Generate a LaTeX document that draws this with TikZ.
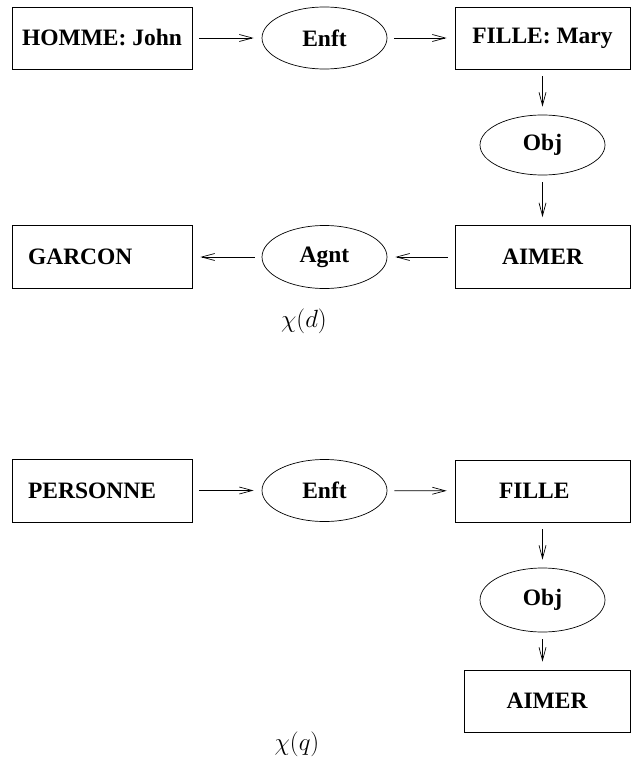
\documentclass[tikz,border=0pt]{standalone}
\usepackage{fontspec}
\setmainfont{Liberation Serif}
\usepackage{tikz}
\usetikzlibrary{arrows.meta,positioning,shapes.geometric}
\tikzset{
  concept/.style={draw,line width=.7pt,minimum height=62pt,inner sep=0pt,font=\fontsize{23.5}{27}\selectfont\bfseries},
  leftconcept/.style={concept,align=left,inner xsep=16pt,text width=148pt},
  relation/.style={draw,ellipse,line width=.7pt,minimum width=125pt,minimum height=62pt,inner sep=0pt,font=\fontsize{23.5}{27}\selectfont\bfseries},
  link/.style={line width=.7pt,-{Straight Barb[length=13pt,width=7pt]},shorten <=7pt,shorten >=8pt},
  caption/.style={font=\fontsize{27}{31}\selectfont}
}
\begin{document}
\begin{tikzpicture}[x=1pt,y=-1pt]
    \useasboundingbox (0,0) rectangle (631,770);
    % graphe chi(d)
    \node[concept,minimum width=180pt] (homme) at (102,38) {HOMME: John};
    \node[relation] (enftd) at (324.5,38) {Enft};
    \node[concept,minimum width=175pt] (mary) at (542.5,38) {FILLE: Mary};
    \node[relation,minimum height=60pt] (objd) at (542.5,145) {Obj};
    \node[concept,minimum width=175pt,minimum height=63pt] (aimerd) at (542.5,257) {AIMER};
    \node[relation,minimum height=63pt] (agnt) at (324.5,257) {Agnt};
    \node[leftconcept,minimum height=63pt] (garcon) at (102,257) {GARCON};
    \node[caption] (chid) at (304,321) {$\chi(d)$};
    \draw[link] (homme) -- (enftd);
    \draw[link] (enftd) -- (mary);
    \draw[link] (mary) -- (objd);
    \draw[link] (objd) -- (aimerd);
    \draw[link] (aimerd) -- (agnt);
    \draw[link] (agnt) -- (garcon);
    % graphe chi(q)
    \node[leftconcept,minimum height=63pt] (personne) at (102,490.5) {PERSONNE};
    \node[relation] (enftq) at (324.5,490.5) {Enft};
    \node[concept,minimum width=175pt,align=left,inner xsep=44pt,text width=87pt] (fille) at (542.5,491) {FILLE};
    \node[relation,minimum height=64pt] (objq) at (542.5,600) {Obj};
    \node[concept,minimum width=166pt] (aimerq) at (547,701) {AIMER};
    \node[caption] (chiq) at (297,744) {$\chi(q)$};
    \draw[link] (personne) -- (enftq);
    \draw[link] (enftq) -- (fille);
    \draw[link] (fille) -- (objq);
    \draw[link] (objq) -- (objq |- aimerq.north);
  \end{tikzpicture}
\end{document}
